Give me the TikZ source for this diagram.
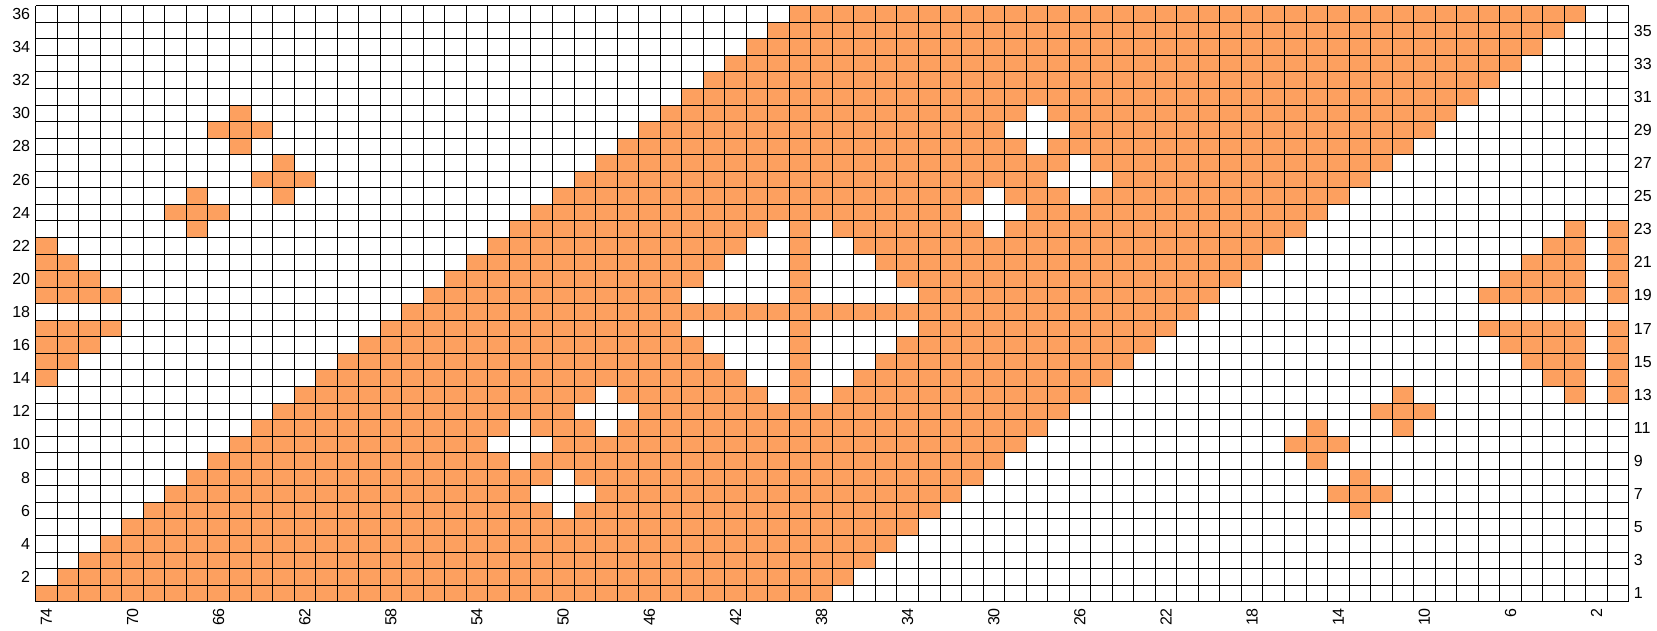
\documentclass[tikz,border=0pt]{standalone}
\usepackage{fontspec}
\setmainfont{Liberation Sans}
\definecolor{knit}{RGB}{253,160,95}
\tikzset{
  gridline/.style={black, line width=0.9pt},
  lab/.style={font=\fontsize{16}{19}\selectfont, inner sep=0pt, text=black},
}
\begin{document}
\begin{tikzpicture}[x=1pt,y=1pt]
\useasboundingbox (0,0) rectangle (1657,631);
\fill[white] (0,0) rectangle (1657,631);
\begin{scope}[shift={(35.7,29.3)}, x=21.53pt, y=16.556pt]
  % diagonal band
  \foreach \r in {1,...,36} \fill[knit] ({\r-1},{\r-1}) rectangle ({\r+36},\r);
  \begin{scope}
    \clip (0,0) rectangle (74,36);
    % diamonds
    \foreach \cx/\col in {2/knit,39/white,76/knit}{
      \foreach \dc in {-6,...,6}{
        \foreach \dr in {-6,...,6}{
          \pgfmathtruncatemacro\s{abs(\dc)+abs(\dr)}
          \pgfmathtruncatemacro\p{\dc*\dr}
          \ifnum\s<7 \ifnum\p=0 \else
            \fill[\col] ({74-\cx-\dc},{17+\dr}) rectangle ++(1,1);
          \fi\fi
        }}}
    % small crosses
    \foreach \cx/\cy/\col in {65/29/knit,63/26/knit,67/24/knit,11/12/knit,15/10/knit,13/7/knit,28/29/white,26/26/white,30/24/white,48/12/white,52/10/white,50/7/white}{
      \fill[\col] ({73-\cx},{\cy-1}) rectangle ({76-\cx},\cy);
      \fill[\col] ({74-\cx},{\cy-2}) rectangle ({75-\cx},{\cy+1});
    }
  \end{scope}
  % grid
  \foreach \i in {0,...,74} \draw[gridline] (\i,0) -- (\i,36);
  \foreach \j in {0,...,36} \draw[gridline] (0,\j) -- (74,\j);
  % labels
  \foreach \r in {2,4,...,36} \node[lab, anchor=east] (L\r) at (-0.25,{\r-0.5}) {\r};
  \foreach \r in {1,3,...,35} \node[lab, anchor=west] (R\r) at (74.22,{\r-0.5}) {\r};
  \foreach \c in {74,70,...,2} \node[lab, rotate=90, anchor=east] (B\c) at ({74.5-\c},-0.38) {\c};
\end{scope}
\end{tikzpicture}
\end{document}
